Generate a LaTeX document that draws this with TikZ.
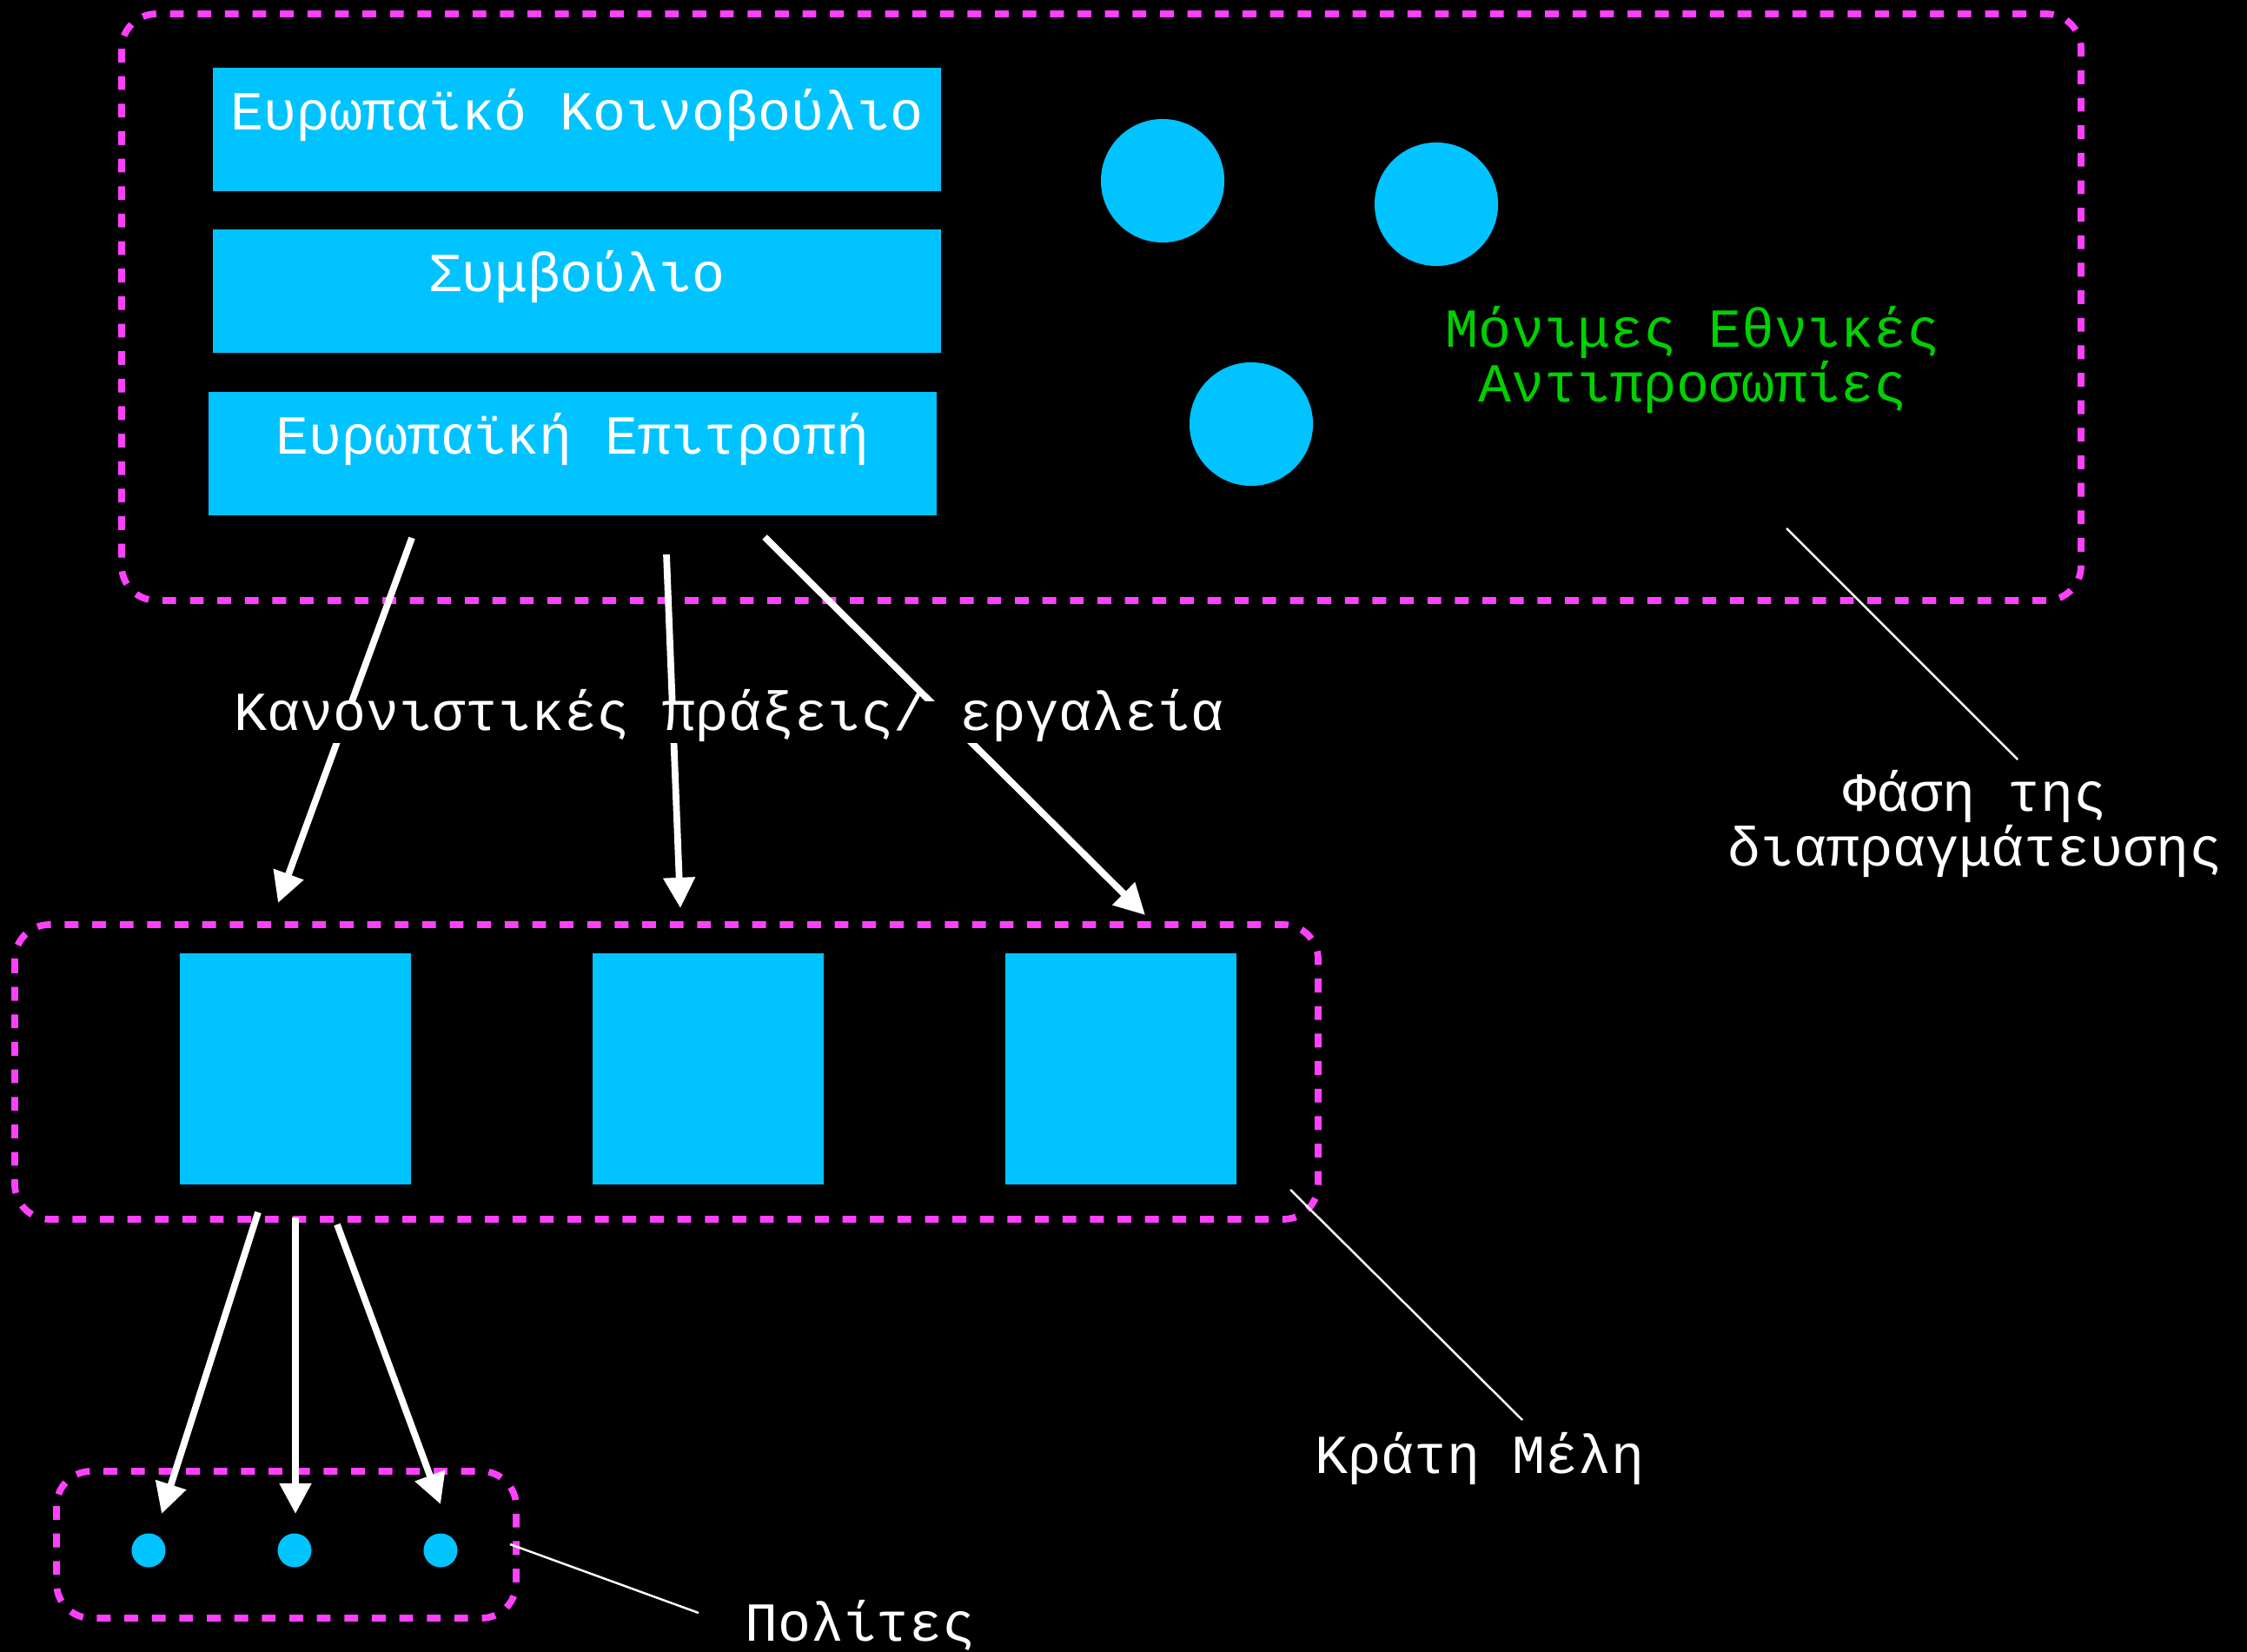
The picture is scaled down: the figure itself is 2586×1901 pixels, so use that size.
\documentclass[tikz,border=0pt]{standalone}
\usepackage{fontspec}
\setmonofont{Liberation Mono}
\usepackage{tikz}
\usetikzlibrary{arrows.meta, positioning}
\definecolor{AquaBox}{HTML}{00C3FF}
\definecolor{FramePink}{HTML}{FF40FF}
\definecolor{DelegGreen}{HTML}{00D000}
\newcommand{\tightlines}{\lineskiplimit=-20pt\relax}

\begin{document}
\begin{tikzpicture}[x=0.01cm, y=-0.01cm, >={Triangle[length=10pt, width=10pt]},
  frame/.style={draw=FramePink, line width=2.2pt, dash pattern=on 4.5pt off 4.5pt, rounded corners=0.4cm},
  inst/.style={fill=AquaBox, minimum width=8.38cm, minimum height=1.41cm, inner sep=0pt},
  msbox/.style={fill=AquaBox, minimum size=2.65cm, inner sep=0pt},
  deleg/.style={circle, fill=AquaBox, minimum size=1.42cm, inner sep=0pt},
  citizen/.style={circle, fill=AquaBox, minimum size=0.39cm, inner sep=0pt},
  txt/.style={font=\ttfamily\fontsize{18}{16}\selectfont, text=white, text height=0.8em, text depth=0.25em},
  txtml/.style={font=\ttfamily\fontsize{18}{17.8}\selectfont\tightlines, text=white, align=center},
  flow/.style={->, white, line width=2.2pt},
  leader/.style={white, line width=0.7pt}]
  % Background and page size
  \fill[black] (0,0) rectangle (2586,1901);
  \useasboundingbox (0,0) rectangle (2586,1901);

  % Negotiation phase: institutions and permanent representations
  \draw[frame] (140,16) rectangle (2395,691);
  \node[inst] (parl) at (664,149) {};
  \node[txt] at (664,140) {Ευρωπαϊκό Κοινοβούλιο};
  \node[inst] (council) at (664,335) {};
  \node[txt] at (664,326) {Συμβούλιο};
  \node[inst] (comm) at (659,522) {};
  \node[txt] at (659,513) {Ευρωπαϊκή Επιτροπή};
  \node[deleg] (rep1) at (1338,208) {};
  \node[deleg] (rep2) at (1653,235) {};
  \node[deleg] (rep3) at (1440,488) {};
  \node[txtml, text=DelegGreen] (perm) at (1948,414) {Μόνιμες Εθνικές\\Αντιπροσωπίες};

  % Member states
  \draw[frame] (17,1064) rectangle (1517,1403);
  \node[msbox] (ms1) at (340,1230) {};
  \node[msbox] (ms2) at (815,1230) {};
  \node[msbox] (ms3) at (1290,1230) {};

  % Citizens
  \draw[frame] (65,1693) rectangle (594,1862);
  \node[citizen] (cit1) at (171,1784) {};
  \node[citizen] (cit2) at (339,1784) {};
  \node[citizen] (cit3) at (507,1784) {};

  % Acts going down to the member states
  \coordinate (a1) at (474,619);  \coordinate (b1) at (320,1039);
  \coordinate (a2) at (767,638);  \coordinate (b2) at (783,1045);
  \coordinate (a3) at (880,618);  \coordinate (b3) at (1318,1053);
  \foreach \i in {1,2,3}
    \draw[flow] (a\i) -- (b\i);
  \node[txt, fill=black, inner ysep=1.6pt] (acts) at (839,831) {Κανονιστικές πράξεις/ εργαλεία};

  % From member states to citizens
  \coordinate (c1) at (297,1395); \coordinate (d1) at (186,1742);
  \coordinate (c2) at (340,1401); \coordinate (d2) at (340,1742);
  \coordinate (c3) at (388,1409); \coordinate (d3) at (507,1731);
  \foreach \i in {1,2,3}
    \draw[flow] (c\i) -- (d\i);

  % Callouts
  \node[txtml] (phase) at (2273,948) {Φάση της\\διαπραγμάτευσης};
  \coordinate (phasetip) at (2056,608);
  \draw[leader] (phasetip) -- (2322,874);
  \node[txt] (states) at (1703,1686) {Κράτη Μέλη};
  \coordinate (statestip) at (1485,1369);
  \draw[leader] (statestip) -- (1752,1634);
  \node[txt] (citizens) at (990,1879) {Πολίτες};
  \coordinate (citizenstip) at (587,1777);
  \draw[leader] (citizenstip) -- (804,1856);
\end{tikzpicture}
\end{document}
